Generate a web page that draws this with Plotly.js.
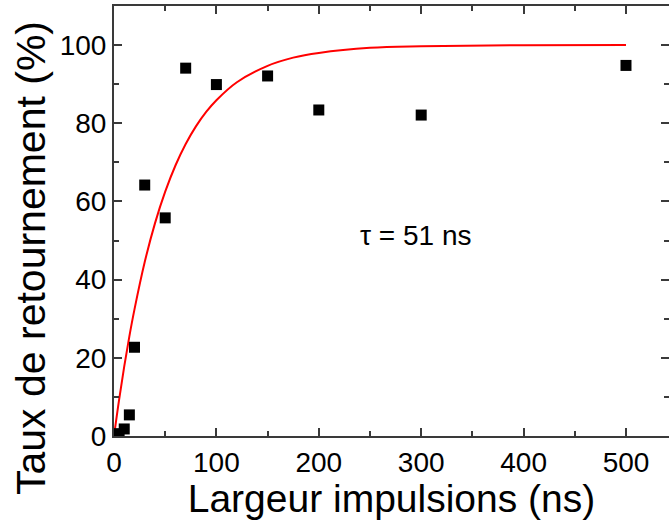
<!DOCTYPE html>
<html>
<head>
<meta charset="utf-8">
<script src="https://cdn.plot.ly/plotly-3.0.1.min.js"></script>
<style>html,body{margin:0;padding:0;background:#fff;}#chart{width:669px;height:520px;}</style>
</head>
<body>
<div id="chart"></div>
<script>
// Measured points
const pulseWidth = [5, 10, 15, 20, 30, 50, 70, 100, 150, 200, 300, 500];
const switchRate = [0.6, 1.8, 5.4, 22.7, 64.2, 55.8, 94.1, 89.9, 92.1, 83.4, 82.1, 94.8];

// Fit curve
const fitX = [0, 5, 10, 15, 20, 30, 40, 50, 60, 70, 80, 90, 100, 120, 150, 175, 200, 250, 300, 400, 500];
const fitY = [0, 9.3, 17.8, 25.5, 32.4, 44.5, 54.4, 62.5, 69.2, 74.7, 79.2, 82.9, 85.9, 90.5, 94.7, 96.8, 98.0, 99.3, 99.7, 99.96, 100];

const xTicks = [0, 100, 200, 300, 400, 500];
const yTicks = [0, 20, 40, 60, 80, 100];
const annotationText = "\u03c4 = 51 ns";
const xTitle = 'Largeur impulsions (ns)';
const yTitle = 'Taux de retournement (%)';

const font = "Liberation Sans, Arial, sans-serif";
const axisCommon = {
  showline: true, linecolor: '#3a3a3a', linewidth: 2, mirror: 'allticks',
  ticks: 'inside', ticklen: 8, tickwidth: 2, tickcolor: '#3a3a3a',
  showgrid: false, zeroline: false,
  tickfont: {family: font, size: 28, color: '#000'}
};

const traces = [
  {x: fitX, y: fitY, mode: 'lines', line: {color: '#ff0000', width: 2, shape: 'spline', smoothing: 1}, hoverinfo: 'skip'},
  {x: pulseWidth, y: switchRate, mode: 'markers', marker: {symbol: 'square', size: 11, color: '#000'}}
];

const plotL = 114, plotW = 555;
const layout = {
  width: 669, height: 520,
  margin: {l: plotL, r: 0, t: 6, b: 84},
  paper_bgcolor: '#fff', plot_bgcolor: '#fff',
  showlegend: false,
  xaxis: Object.assign({}, axisCommon, {
    range: [0, 542], tickvals: xTicks, ticktext: xTicks.map(String),
    minor: {dtick: 50, tick0: 0, ticks: 'inside', ticklen: 5, tickwidth: 2, tickcolor: '#3a3a3a'},
    title: {text: xTitle, font: {family: font, size: 39, color: '#000'}, standoff: 2}
  }),
  yaxis: Object.assign({}, axisCommon, {
    range: [0, 110], tickvals: yTicks, ticktext: yTicks.map(String),
    minor: {dtick: 10, tick0: 0, ticks: 'inside', ticklen: 5, tickwidth: 2, tickcolor: '#3a3a3a'}
  }),
  annotations: [
    {x: 294, y: 51.4, xref: 'x', yref: 'y', text: annotationText, showarrow: false,
     font: {family: font, size: 28, color: '#000'}},
    {x: (31 - plotL) / plotW, y: 0.5, xref: 'paper', yref: 'paper', text: yTitle, showarrow: false,
     textangle: -90, xanchor: 'center', yanchor: 'middle',
     font: {family: font, size: 41, color: '#000'}}
  ]
};
// y for title: convert pixel 258 from top into paper coordinate
layout.annotations[1].y = (520 - 84 - 258) / (520 - 84 - 6);

Plotly.newPlot('chart', traces, layout, {displayModeBar: false, staticPlot: true});
</script>
</body>
</html>
